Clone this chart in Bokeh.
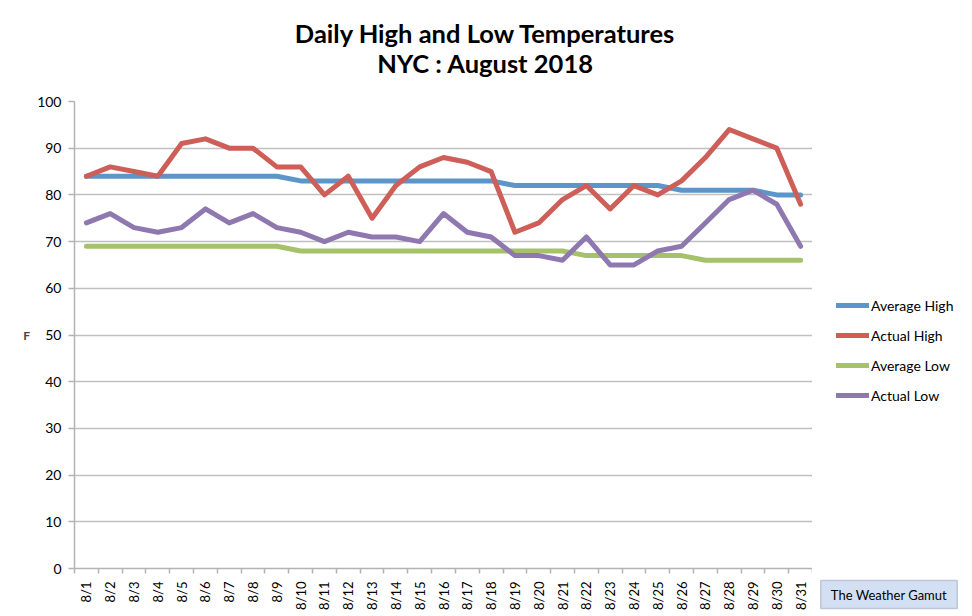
import math
from bokeh.plotting import figure
from bokeh.layouts import column, row
from bokeh.models import (FixedTicker, Legend, LegendItem, Label, Range1d, ColumnDataSource)
from bokeh.embed import file_html
from bokeh.resources import INLINE

days = [f"8/{d}" for d in range(1, 32)]
avg_high = [84, 84, 84, 84, 84, 84, 84, 84, 84, 83, 83, 83, 83, 83, 83, 83, 83, 83,
            82, 82, 82, 82, 82, 82, 82, 81, 81, 81, 81, 80, 80]
act_high = [84, 86, 85, 84, 91, 92, 90, 90, 86, 86, 80, 84, 75, 82, 86, 88, 87, 85,
            72, 74, 79, 82, 77, 82, 80, 83, 88, 94, 92, 90, 78]
avg_low = [69, 69, 69, 69, 69, 69, 69, 69, 69, 68, 68, 68, 68, 68, 68, 68, 68, 68,
           68, 68, 68, 67, 67, 67, 67, 67, 66, 66, 66, 66, 66]
act_low = [74, 76, 73, 72, 73, 77, 74, 76, 73, 72, 70, 72, 71, 71, 70, 76, 72, 71,
           67, 67, 66, 71, 65, 65, 68, 69, 74, 79, 81, 78, 69]
series_names = ["Average High", "Actual High", "Average Low", "Actual Low"]
series_colors = ["#5b95c9", "#cd5f58", "#a5c26a", "#8f78b0"]
y_ticks = list(range(0, 101, 10))
title_lines = ["Daily High and Low Temperatures", "NYC : August 2018"]
badge_text = "The Weather Gamut"

FONT = "Lato"
W, H = 972, 616
TOP_H = 85
LEFT = 74
MAIN_W = 812
MAIN_H = H - TOP_H
SIDE_W = W - MAIN_W

xs = list(range(1, len(days) + 1))
keys = ["ah", "hh", "al", "ll"]
src_data = dict(x=xs, ah=avg_high, hh=act_high, al=avg_low, ll=act_low)


def blank(width, height, x0=0, left=0):
    f = figure(width=width, height=height, output_backend="svg", toolbar_location=None,
               title=None, x_range=Range1d(x0 + left, x0 + width), y_range=Range1d(0, height),
               min_border=0, min_border_left=left,
               x_axis_location=None, y_axis_location=None)
    f.outline_line_color = None
    f.xgrid.grid_line_color = None
    f.ygrid.grid_line_color = None
    f.border_fill_color = "white"
    f.background_fill_color = "white"
    return f


# ---- title strip (frame aligned with the chart's frame: x data == page pixels)
top = blank(MAIN_W, TOP_H, left=LEFT)
for txt, sy in zip(title_lines, [32, 62]):
    top.add_layout(Label(x=485, y=TOP_H - sy, text=txt, text_align="center",
                         text_baseline="middle", text_font=FONT, text_font_size="25.5px",
                         text_font_style="bold", text_color="black"))

# ---- main chart
p = figure(width=MAIN_W, height=MAIN_H, output_backend="svg", toolbar_location=None,
           title=None, x_range=Range1d(0.5, len(days) + 0.5), y_range=Range1d(0, 100),
           min_border_left=LEFT, min_border_right=0, min_border_top=101 - TOP_H,
           min_border_bottom=H - 568)
p.outline_line_color = None
p.background_fill_color = "white"
p.border_fill_color = "white"

src = ColumnDataSource(src_data)
for key, color in zip(keys, series_colors):
    p.line("x", key, source=src, line_color=color, line_width=5,
           line_cap="round", line_join="round")

xa = p.xaxis[0]
xa.ticker = FixedTicker(ticks=xs, minor_ticks=[x - 0.5 for x in xs] + [len(xs) + 0.5])
xa.major_label_overrides = {x: d for x, d in zip(xs, days)}
xa.major_label_orientation = math.pi / 2
xa.major_tick_in = 0
xa.major_tick_out = 0
xa.minor_tick_in = 0
xa.minor_tick_out = 5
xa.minor_tick_line_color = "#b3b3b3"
xa.minor_tick_line_width = 1.5
xa.axis_line_color = "#b3b3b3"
xa.axis_line_width = 1.5
xa.major_label_text_font = FONT
xa.major_label_text_font_size = "13px"
xa.major_label_text_color = "black"
xa.major_label_standoff = 8

ya = p.yaxis[0]
ya.ticker = FixedTicker(ticks=y_ticks)
ya.minor_tick_line_color = None
ya.major_tick_in = 0
ya.major_tick_out = 6
ya.major_tick_line_color = "#b3b3b3"
ya.major_tick_line_width = 1.5
ya.axis_line_color = "#b3b3b3"
ya.axis_line_width = 1.5
ya.major_label_text_font = FONT
ya.major_label_text_font_size = "14px"
ya.major_label_text_color = "black"
ya.major_label_standoff = 7
ya.axis_label = "F"
ya.axis_label_orientation = "horizontal"
ya.axis_label_text_font = FONT
ya.axis_label_text_font_size = "12px"
ya.axis_label_text_font_style = "bold"
ya.axis_label_standoff = 4

p.xgrid.grid_line_color = None
p.ygrid.grid_line_color = "#c0c0c0"
p.ygrid.grid_line_width = 1.5

# ---- side panel (full height): legend and badge; its series lie outside its view
side = blank(SIDE_W, H, x0=1000)
side_src = ColumnDataSource(src_data)
items = []
for name, key, color in zip(series_names, keys, series_colors):
    r = side.line("x", key, source=side_src, line_color=color, line_width=5,
                  line_cap="round")
    items.append(LegendItem(label=name, renderers=[r]))
legend = Legend(items=items, location=(836 - MAIN_W, H - 405),
                orientation="vertical", glyph_width=33, glyph_height=20, label_height=20,
                spacing=10, padding=0, margin=0, label_standoff=2,
                background_fill_alpha=0, border_line_color=None,
                label_text_font=FONT, label_text_font_size="14px", label_text_color="black")
side.add_layout(legend, "center")

side.add_layout(Label(x=1000 + 888.5 - MAIN_W, y=H - 594, text=badge_text,
                      text_align="center", text_baseline="middle", text_font=FONT,
                      text_font_size="13px", text_color="black",
                      background_fill_color="#d3e0f3", border_line_color="#bcc6d6",
                      border_line_width=1.5, padding=(10, 6)))

layout = row(column(top, p, spacing=0), side, spacing=0)
open("out.html", "w").write(file_html(layout, INLINE))
